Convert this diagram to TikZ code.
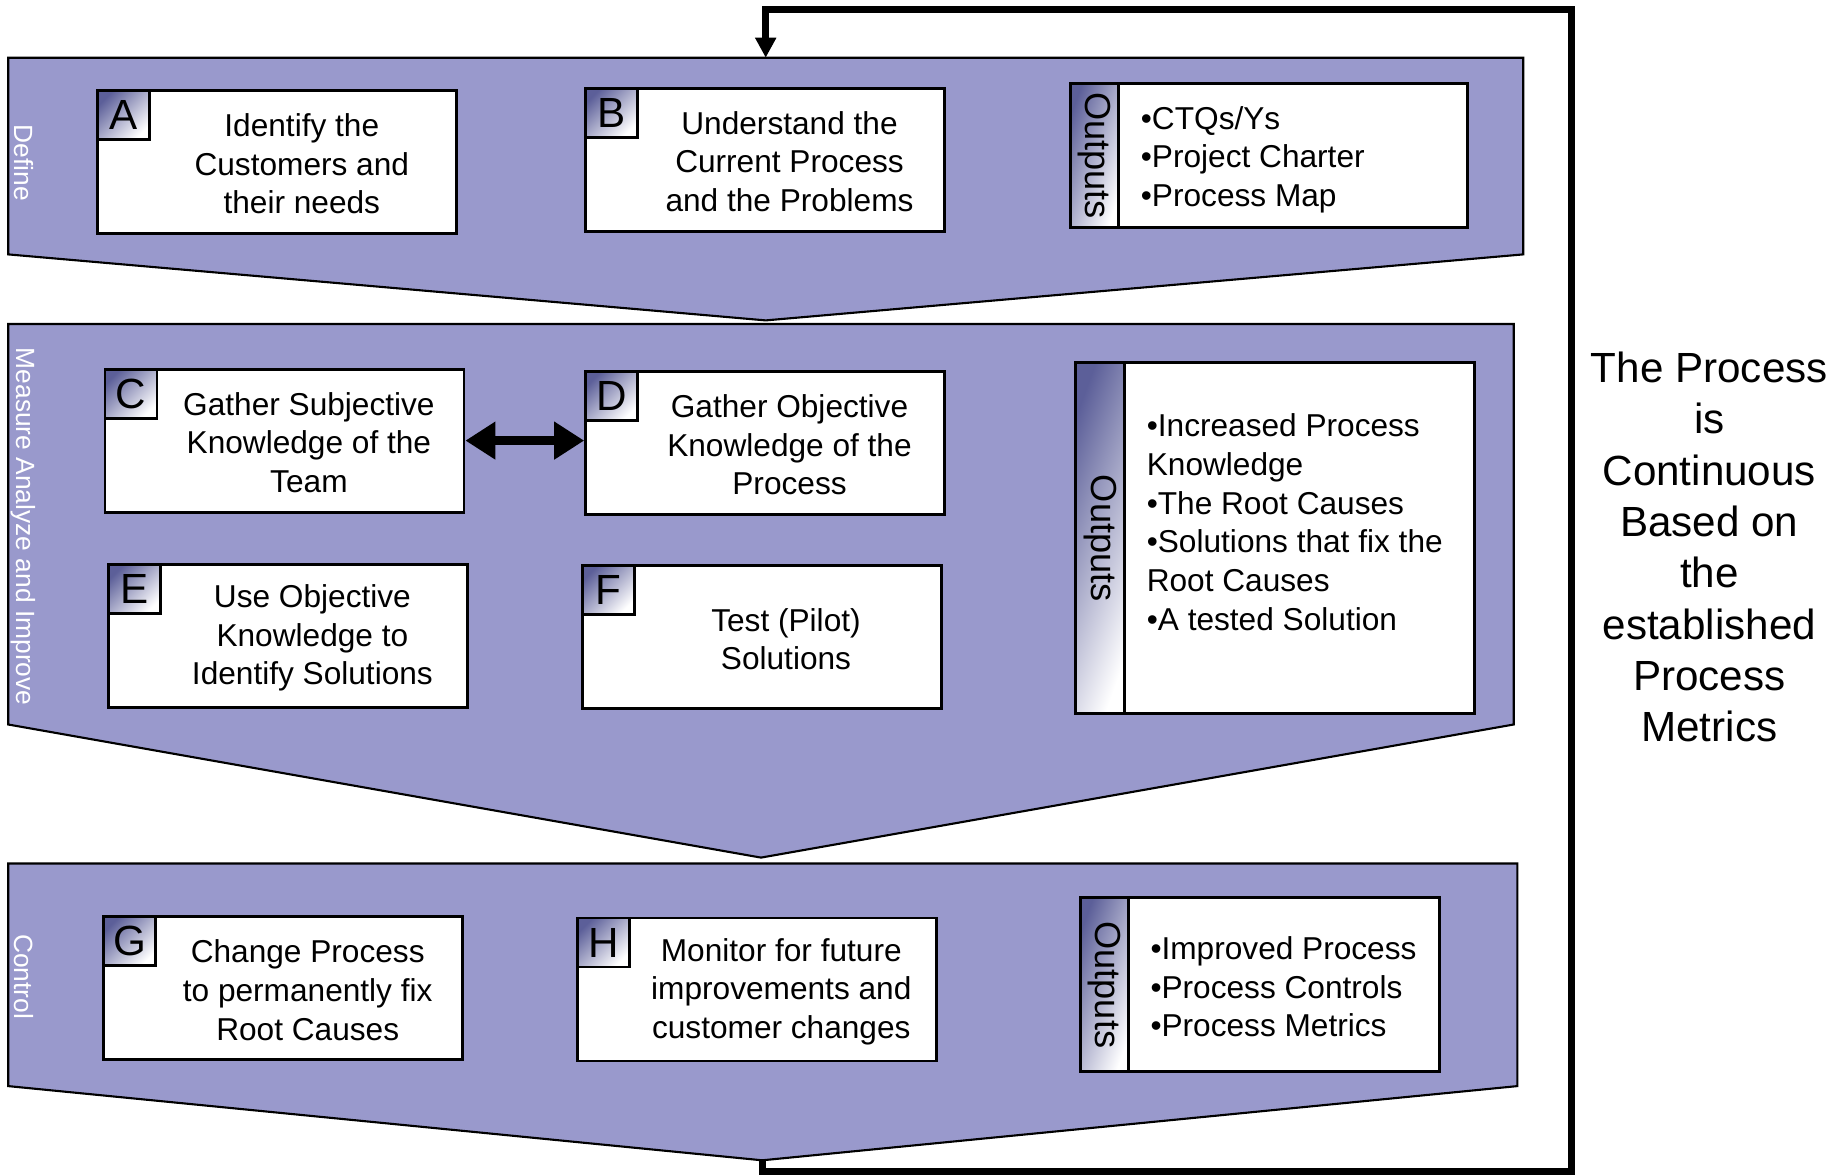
\documentclass[tikz,border=0pt]{standalone}
\usepackage{fontspec}
\setmainfont{Liberation Sans}
\usepackage{tikz}
\usetikzlibrary{arrows.meta, positioning, calc}
\definecolor{bandblue}{HTML}{9999CC}
\definecolor{shadeblue}{HTML}{5C5F99}
\tikzstyle{band}=[draw=black,line width=0.6pt,fill=bandblue]
\tikzstyle{bandlabel}=[rotate=-90,text=white,font=\fontsize{7.5}{9}\selectfont,inner sep=0pt]
\tikzstyle{stepbox}=[draw=black,line width=0.8pt,fill=white,minimum width=3.59cm,minimum height=1.43cm,inner sep=0pt]
\tikzstyle{letterbox}=[draw=black,line width=0.8pt,top color=shadeblue,bottom color=white,shading angle=45,minimum width=0.52cm,minimum height=0.49cm,inner sep=0pt,font=\fontsize{12}{12}\selectfont,anchor=north west]
\tikzstyle{boxtext}=[align=center,font=\fontsize{9}{11}\selectfont,inner sep=0pt,xshift=-0.03cm,yshift=-0.02cm]
\tikzstyle{outbox}=[draw=black,line width=0.8pt,fill=white,inner sep=0pt]
\tikzstyle{outstrip}=[draw=black,line width=0.8pt,left color=shadeblue,right color=white,shading angle=70,minimum width=0.48cm,inner sep=0pt,anchor=north west]
\tikzstyle{outlabel}=[rotate=-90,font=\fontsize{10.3}{12}\selectfont,inner sep=0pt]
\tikzstyle{outtext}=[align=left,font=\fontsize{9}{11}\selectfont,inner sep=0pt]
\tikzstyle{dblarrow}=[{Triangle[length=0.3cm,width=0.36cm]}-{Triangle[length=0.3cm,width=0.36cm]},line width=2.6pt]
\tikzstyle{fb}=[-{Triangle[length=0.2cm,width=0.2cm]},line width=2pt]

\begin{document}
\begin{tikzpicture}
  \useasboundingbox (0,0) rectangle (18.47,-11.75);
  % phase bands
  \draw[band] (0.082,-0.577) -- (15.232,-0.577) -- (15.232,-2.544) -- (7.657,-3.204) -- (0.082,-2.544) -- cycle;
  \draw[band] (0.082,-3.240) -- (15.137,-3.240) -- (15.137,-7.245) -- (7.610,-8.576) -- (0.082,-7.245) -- cycle;
  \draw[band] (0.082,-8.635) -- (15.173,-8.635) -- (15.173,-10.861) -- (7.622,-11.603) -- (0.082,-10.861) -- cycle;
  \coordinate (top1) at (7.657,-0.577);
  \coordinate (tip3) at (7.622,-11.603);
  \node[bandlabel] (define) at (0.236,-1.626) {Define};
  \node[bandlabel] (mai) at (0.236,-5.266) {Measure Analyze and Improve};
  \node[bandlabel] (control) at (0.236,-9.766) {Control};

  % lettered steps
  \foreach \n/\x/\y/\t in {A/2.774/-1.620/{Identify the\\Customers and\\their needs},
                           B/7.651/-1.596/{Understand the\\Current Process\\and the Problems},
                           C/2.845/-4.406/{Gather Subjective\\Knowledge of the\\Team},
                           D/7.651/-4.429/{Gather Objective\\Knowledge of the\\Process},
                           E/2.880/-6.361/{Use Objective\\Knowledge to\\Identify Solutions},
                           F/7.616/-6.373/{Test (Pilot)\\Solutions},
                           G/2.833/-9.883/{Change Process\\to permanently fix\\Root Causes},
                           H/7.569/-9.895/{Monitor for future\\improvements and\\customer changes}} {
    \node[stepbox] (\n) at (\x,\y) {};
    \node[letterbox] (\n l) at (\n.north west) {\n};
    \node[boxtext] at ($(\n l.east |- \n.center)!0.5!(\n.east)$) {\t};
  }
  \draw[dblarrow] (C.east) -- (C.east -| D.west);

  % outputs
  \node[outbox,minimum width=3.97cm,minimum height=1.44cm] (out1) at (12.693,-1.555) {};
  \node[outstrip,minimum height=1.44cm] (out1s) at (out1.north west) {};
  \node[outlabel] at (out1s) {Outputs};
  \node[outtext,right=0.2cm of out1s.east,yshift=-0.04cm] {\textbullet CTQs/Ys\\\textbullet Project Charter\\\textbullet Process Map};

  \node[outbox,minimum width=3.99cm,minimum height=3.51cm] (out2) at (12.752,-5.383) {};
  \node[outstrip,minimum width=0.49cm,minimum height=3.51cm] (out2s) at (out2.north west) {};
  \node[outlabel] at (out2s) {Outputs};
  \node[outtext,right=0.2cm of out2s.east,yshift=0.16cm] {\textbullet Increased Process\\Knowledge\\\textbullet The Root Causes\\\textbullet Solutions that fix the\\Root Causes\\\textbullet A tested Solution};

  \node[outbox,minimum width=3.59cm,minimum height=1.74cm] (out3) at (12.599,-9.848) {};
  \node[outstrip,minimum height=1.74cm] (out3s) at (out3.north west) {};
  \node[outlabel] at (out3s) {Outputs};
  \node[outtext,right=0.2cm of out3s.east,yshift=-0.02cm] {\textbullet Improved Process\\\textbullet Process Controls\\\textbullet Process Metrics};

  % feedback loop
  \draw[fb] (tip3) -- ++(0,-0.11) -| (15.714,-0.094) -| (top1);
  \node[align=center,font=\fontsize{12}{14.6}\selectfont] (note) at (17.093,-5.472) {The Process\\is\\Continuous\\Based on\\the\\established\\Process\\Metrics};
\end{tikzpicture}
\end{document}
